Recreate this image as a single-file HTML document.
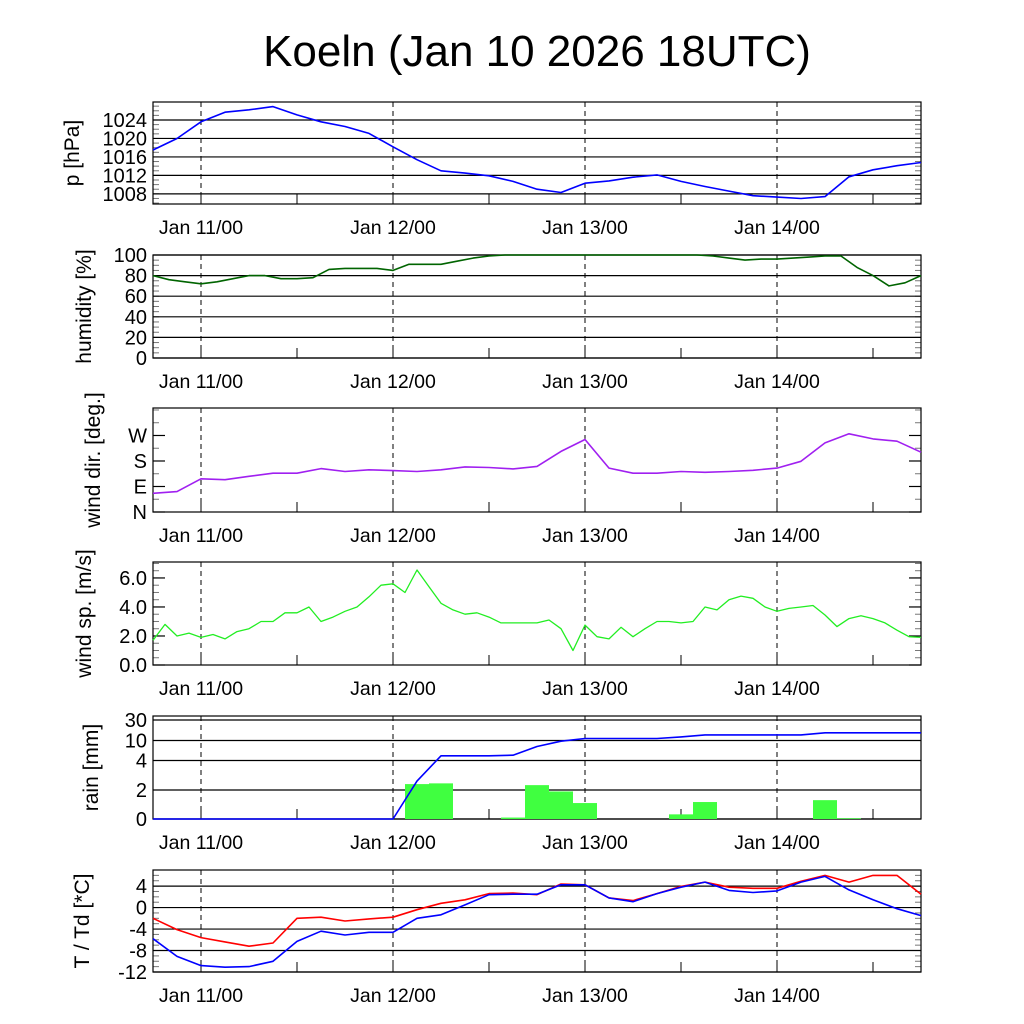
<!DOCTYPE html>
<html><head><meta charset="utf-8"><style>
html,body{margin:0;padding:0;background:#fff;}
svg{display:block;font-family:"Liberation Sans",sans-serif;}
</style></head><body>
<svg id="chart" width="1024" height="1024" viewBox="0 0 1024 1024" xmlns="http://www.w3.org/2000/svg">
<rect width="1024" height="1024" fill="#fff"/>
<text x="537" y="66" font-size="44" text-anchor="middle">Koeln (Jan 10 2026 18UTC)</text>
</svg>
<script>
// hours from Jan 10 18UTC, span 96h
const dayLabels = ["Jan 11/00","Jan 12/00","Jan 13/00","Jan 14/00"];
const dayHours = [6,30,54,78];
const pressure = [1017.5,1020.0,1023.6,1025.7,1026.2,1026.9,1025.1,1023.6,1022.6,1021.1,1018.2,1015.4,1013.0,1012.5,1011.9,1010.7,1009.0,1008.3,1010.3,1010.8,1011.6,1012.1,1010.7,1009.6,1008.6,1007.6,1007.3,1007.0,1007.4,1011.7,1013.2,1014.1,1014.8];
const humidity = [80,76,74,72,74,77,80,80,77,77,78,86,87,87,87,85,91,91,91,94,97,99,100,100,100,100,100,100,100,100,100,100,100,100,100,99,97,95,96,96,97,98,99,99,88,80,70,73,80];
const windDir = [66,72,117,114,126,137,137,153,143,149,146,143,149,159,157,152,161,214,256,155,137,137,143,140,143,147,155,179,244,276,258,250,211];
const windSpeed = [1.7,2.8,2.0,2.2,1.9,2.1,1.8,2.3,2.5,3.0,3.0,3.6,3.6,4.0,3.0,3.3,3.7,4.0,4.7,5.5,5.6,5.0,6.55,5.4,4.25,3.8,3.5,3.6,3.3,2.9,2.9,2.9,2.9,3.1,2.5,1.0,2.75,1.95,1.8,2.6,1.95,2.5,3.0,3.0,2.9,3.0,4.0,3.8,4.5,4.75,4.6,4.0,3.7,3.9,4.0,4.1,3.45,2.65,3.2,3.4,3.2,2.9,2.4,1.95,1.9];
const rainBars = [0,0,0,0,0,0,0,0,0,0,0,2.4,2.45,0,0,0.1,2.33,1.9,1.1,0,0,0,0.32,1.17,0,0,0,0,1.3,0.05,0,0,0];
const rainSum = [0,0,0,0,0,0,0,0,0,0,0,2.6,5.4,5.4,5.4,5.6,8.2,9.8,12,12,12,12,13.5,15.5,15.5,15.5,15.5,15.5,17.5,17.5,17.5,17.5,17.5];
const temp = [-2.0,-4.1,-5.6,-6.4,-7.2,-6.6,-2.0,-1.8,-2.5,-2.1,-1.8,-0.4,0.8,1.45,2.6,2.7,2.4,4.4,4.25,1.8,1.3,2.6,3.95,4.75,3.8,3.6,3.6,4.9,6.0,4.75,6.0,6.0,2.5];
const dewpoint = [-5.8,-9.1,-10.8,-11.1,-11.0,-10.0,-6.3,-4.4,-5.1,-4.6,-4.6,-2.0,-1.35,0.5,2.4,2.5,2.5,4.25,4.25,1.8,1.1,2.6,3.8,4.75,3.2,2.8,3.1,4.75,5.8,3.3,1.45,-0.2,-1.5];
const pTicks = [1008,1012,1016,1020,1024];
const hTicks = [0,20,40,60,80,100];
const dTicks = ["N","E","S","W"];
const dTickVals = [0,90,180,270];
const sTicks = [0.0,2.0,4.0,6.0];
const rTicks = [0,2,4,10,30];
const tTicks = [-12,-8,-4,0,4];

const NS="http://www.w3.org/2000/svg";
const svg=document.getElementById('chart');
const X0=153,X1=921;
function xs(h){return X0+(X1-X0)*h/96;}
function mk(tag,attrs,parent){const e=document.createElementNS(NS,tag);for(const k in attrs)e.setAttribute(k,attrs[k]);(parent||svg).appendChild(e);return e;}

function panel(name,top,bot,vmin,vmax,map,ticks,tickLabels,grid,minorStep,title,titleX){
  const g=mk('g',{});
  
  
  const y=map||((v)=>bot-(v-vmin)/(vmax-vmin)*(bot-top));
  if(minorStep){
    for(let v=Math.ceil(vmin/minorStep)*minorStep;v<=vmax;v+=minorStep){
      const yy=y(v);
      mk('line',{x1:X0,x2:X0+6,y1:yy,y2:yy,stroke:'#777','stroke-width':1},g);
      mk('line',{x1:X1-6,x2:X1,y1:yy,y2:yy,stroke:'#777','stroke-width':1},g);
    }
  }
  ticks.forEach((v,i)=>{
    const yy=y(v);
    if(grid){mk('line',{x1:X0,x2:X1,y1:yy,y2:yy,stroke:'#000','stroke-width':1.2},g);}
    else{
      mk('line',{x1:X0,x2:X0+12,y1:yy,y2:yy,stroke:'#000','stroke-width':1.2},g);
      mk('line',{x1:X1-12,x2:X1,y1:yy,y2:yy,stroke:'#000','stroke-width':1.2},g);
    }
    const t=mk('text',{x:147,y:yy+7,'font-size':20,'text-anchor':'end'},g);
    
    
    t.textContent=tickLabels[i];
  });
  dayHours.forEach((h,i)=>{
    const xx=xs(h);
    mk('line',{x1:xx,x2:xx,y1:top,y2:bot,stroke:'#000','stroke-width':1,'stroke-dasharray':'5,4'},g);
    const t=mk('text',{x:xx,y:bot+30,'font-size':19.5,'text-anchor':'middle'},g);
    
    
    t.textContent=dayLabels[i];
  });
  for(let h=6;h<96;h+=12){
    const xx=xs(h);
    mk('line',{x1:xx,x2:xx,y1:bot-10,y2:bot,stroke:'#000','stroke-width':1},g);
  }
  mk('rect',{x:X0,y:top,width:X1-X0,height:bot-top,fill:'none',stroke:'#000','stroke-width':1.2},g);
  const yt=(top+bot)/2;
  const tt=mk('text',{x:titleX,y:yt,'font-size':21,'text-anchor':'middle',transform:`rotate(-90 ${titleX} ${yt})`},g);
  
  
  tt.textContent=title;
  return {g,y};
}
function line(p,arr,color,name,w){
  const n=arr.length;
  const d=arr.map((v,i)=>(i?'L':'M')+xs(i*96/(n-1)).toFixed(1)+','+p.y(v).toFixed(1)).join('');
  const e=mk('path',{d:d,fill:'none',stroke:color,'stroke-width':w||1.6,'stroke-linejoin':'round'},p.g);
  
  
}

const p1=panel('pressure',102,204,1005.8,1027.9,null,pTicks,pTicks.map(String),true,1,'p [hPa]',79);
line(p1,pressure,'#0000ff','pressure-line');
const p2=panel('humidity',255,358,0,100,null,hTicks,hTicks.map(String),true,5,'humidity [%]',91);
line(p2,humidity,'#006400','humidity-line');
const p3=panel('wind-dir',408,512,0,367,null,dTickVals,dTicks,false,45,'wind dir. [deg.]',100);
line(p3,windDir,'#a020f0','wind-dir-line');
const p4=panel('wind-speed',562,665,0,7.1,null,sTicks,sTicks.map(v=>v.toFixed(1)),false,0.5,'wind sp. [m/s]',91);
line(p4,windSpeed,'#22ee22','wind-speed-line',1.3);
const rPix=[819,790,760.5,740.5,720];
function rainY(v){
  if(v<=rTicks[0])return rPix[0];
  for(let i=1;i<rTicks.length;i++){ if(v<=rTicks[i]){const f=(v-rTicks[i-1])/(rTicks[i]-rTicks[i-1]);return rPix[i-1]+f*(rPix[i]-rPix[i-1]);} }
  return rPix[4]-(v-30)*1;
}
const p5=panel('rain',716,819,0,34,rainY,rTicks,rTicks.map(String),true,0,'rain [mm]',98);
rainBars.forEach((v,i)=>{
  if(v<=0)return;
  const h=i*3, yy=p5.y(v);
  const r=mk('rect',{x:xs(h-1.5),y:yy,width:xs(h+1.5)-xs(h-1.5),height:819-yy,fill:'#40ff40'},p5.g);
  
  
});
line(p5,rainSum,'#0000ff','rain-sum-line');
const p6=panel('temperature',870,972,-12,7,null,tTicks,tTicks.map(String),true,1,'T / Td [*C]',89);
line(p6,temp,'#ff0000','temperature-line');
line(p6,dewpoint,'#0000ff','dewpoint-line');
</script>
</body></html>
